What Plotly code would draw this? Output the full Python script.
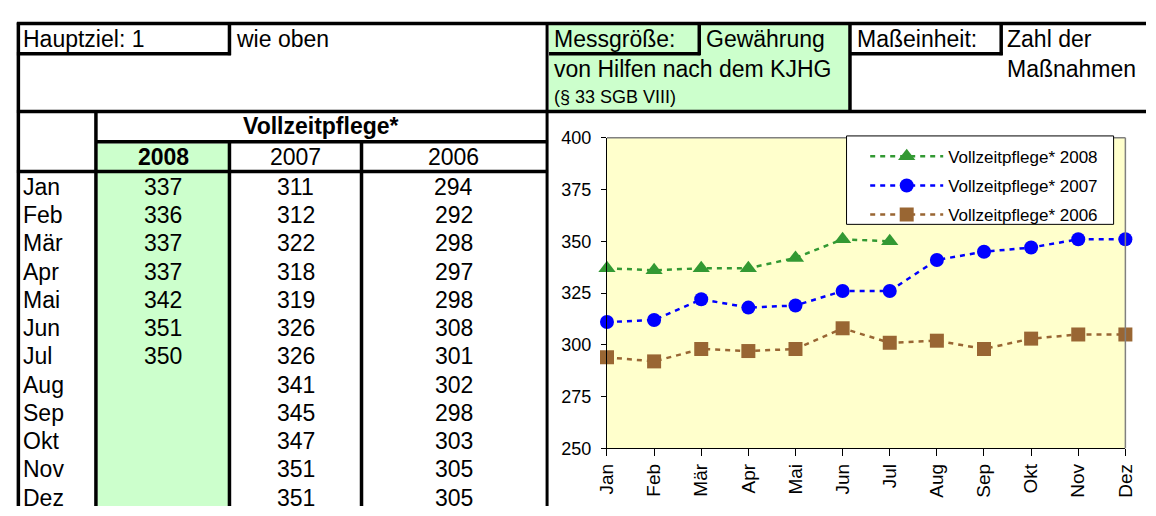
import plotly.graph_objects as go

W, H = 1156, 516
FONT = "Liberation Sans, Arial, sans-serif"

months = ["Jan", "Feb", "Mär", "Apr", "Mai", "Jun", "Jul", "Aug", "Sep", "Okt", "Nov", "Dez"]
years = ["2008", "2007", "2006"]
v2008 = [337, 336, 337, 337, 342, 351, 350]
v2007 = [311, 312, 322, 318, 319, 326, 326, 341, 345, 347, 351, 351]
v2006 = [294, 292, 298, 297, 298, 308, 301, 302, 298, 303, 305, 305]
series_name = "Vollzeitpflege*"
y_ticks = [250, 275, 300, 325, 350, 375, 400]


def px(x):
    return x / W


def py(y):
    return 1 - y / H


def hline(y, x0, x1, w=3.5, c="black"):
    return dict(type="line", xref="paper", yref="paper", x0=px(x0), x1=px(x1),
                y0=py(y), y1=py(y), line=dict(color=c, width=w))


def vline(x, y0, y1, w=3.5, c="black"):
    return dict(type="line", xref="paper", yref="paper", x0=px(x), x1=px(x),
                y0=py(y0), y1=py(y1), line=dict(color=c, width=w))


def rect(x0, y0, x1, y1, fill, layer="below", line=None):
    return dict(type="rect", xref="paper", yref="paper", x0=px(x0), x1=px(x1),
                y0=py(y1), y1=py(y0), fillcolor=fill, line=line or dict(width=0), layer=layer)


def txt(s, x, y, size=23, anchor="left", bold=False):
    if bold:
        s = "<b>" + s + "</b>"
    return dict(text=s, x=px(x), y=py(y), xref="paper", yref="paper", showarrow=False,
                xanchor=anchor, yanchor="middle", font=dict(family=FONT, size=size, color="black"))


green = "#CCFFCC"

shapes = [
    rect(548, 15, 853, 104, green),
    rect(88, 139, 221, 516, green),
    # header / table lines
    hline(14, 6, W),
    hline(45.5, 6, 224),
    hline(45.5, 548, 702),
    hline(45.5, 854, 1010),
    hline(105.5, 6, W),
    hline(137, 86, 547),
    hline(168, 6, 547),
    vline(7.5, 13, H),
    vline(222.5, 13, 47),
    vline(701, 13, 47),
    vline(854.5, 13, 107),
    vline(1008.5, 13, 47),
    vline(546, 13, H, w=3),
    vline(86.5, 105, H),
    vline(222.5, 137, H),
    vline(357, 137, H),
    # grey plot-area border top/right
    dict(type="line", xref="x domain", yref="y domain", x0=0, x1=1, y0=1, y1=1,
         line=dict(color="#808080", width=1.5)),
    dict(type="line", xref="x domain", yref="y domain", x0=1, x1=1, y0=0, y1=1,
         line=dict(color="#808080", width=1.5)),
    # legend frame
    rect(851, 131, 1123, 223, "white", layer="above", line=dict(color="black", width=1)),
]

annotations = [
    txt("Hauptziel: 1", 10, 30),
    txt("wie oben", 227, 30),
    txt("Messgröße:", 551, 30),
    txt("Gewährung", 706, 30),
    txt("von Hilfen nach dem KJHG", 551, 61),
    txt("(§ 33 SGB VIII)", 551, 90, size=18),
    txt("Maßeinheit:", 860, 30),
    txt("Zahl der", 1012, 30),
    txt("Maßnahmen", 1012, 61),
    txt(series_name, 316, 121, anchor="center", bold=True),
]

col_centers = [155, 290, 451]
for i, yr in enumerate(years):
    annotations.append(txt(yr, col_centers[i], 153, anchor="center", bold=(i == 0)))

row0, row_h = 184, 29.4
for i, m in enumerate(months):
    yy = row0 + i * row_h
    annotations.append(txt(m, 10, yy))
    for j, vals in enumerate([v2008, v2007, v2006]):
        if i < len(vals):
            annotations.append(txt(str(vals[i]), col_centers[j], yy, anchor="center"))

dash = "5px,5px"
fig = go.Figure()
fig.add_trace(go.Scatter(x=months[:len(v2008)], y=v2008, name=series_name + " 2008",
                         legendgroup="a", mode="lines+markers", cliponaxis=False,
                         line=dict(color="#339933", width=2.5, dash=dash),
                         marker=dict(symbol="triangle-up", size=15, color="#339933")))
fig.add_trace(go.Scatter(x=months, y=v2007, name=series_name + " 2007",
                         legendgroup="b", mode="lines+markers", cliponaxis=False,
                         line=dict(color="#0000FF", width=2.5, dash=dash),
                         marker=dict(symbol="circle", size=14, color="#0000FF")))
fig.add_trace(go.Scatter(x=months, y=v2006, name=series_name + " 2006",
                         legendgroup="c", mode="lines+markers", cliponaxis=False,
                         line=dict(color="#996633", width=2.5, dash=dash),
                         marker=dict(symbol="square", size=14, color="#996633")))

fig.update_layout(
    width=W, height=H,
    margin=dict(l=0, r=0, t=0, b=0),
    paper_bgcolor="white",
    plot_bgcolor="#FFFFCC",
    font=dict(family=FONT, size=18, color="black"),
    shapes=shapes,
    annotations=annotations,
    showlegend=True,
    legend=dict(x=px(870), y=py(134), xanchor="left", yanchor="top",
                bgcolor="rgba(0,0,0,0)", borderwidth=0,
                font=dict(family=FONT, size=17, color="black"),
                itemwidth=73, tracegroupgap=4, traceorder="grouped"),
    xaxis=dict(domain=[px(607), px(1135)], type="category", categoryorder="array",
               categoryarray=months, range=[0, 11], tickangle=-90,
               ticks="outside", ticklen=7, tickcolor="black", showline=True,
               linecolor="black", linewidth=1, showgrid=False, zeroline=False,
               tickfont=dict(size=19)),
    yaxis=dict(domain=[py(456), py(133)], range=[250, 400], tickvals=y_ticks,
               ticks="outside", ticklen=5, tickcolor="black", showline=True,
               linecolor="black", linewidth=1, showgrid=False, zeroline=False,
               ticklabelstandoff=6, tickfont=dict(size=18)),
)

fig.write_html("out.html", config={"displayModeBar": False},
               post_script="document.body.style.margin='0';")
